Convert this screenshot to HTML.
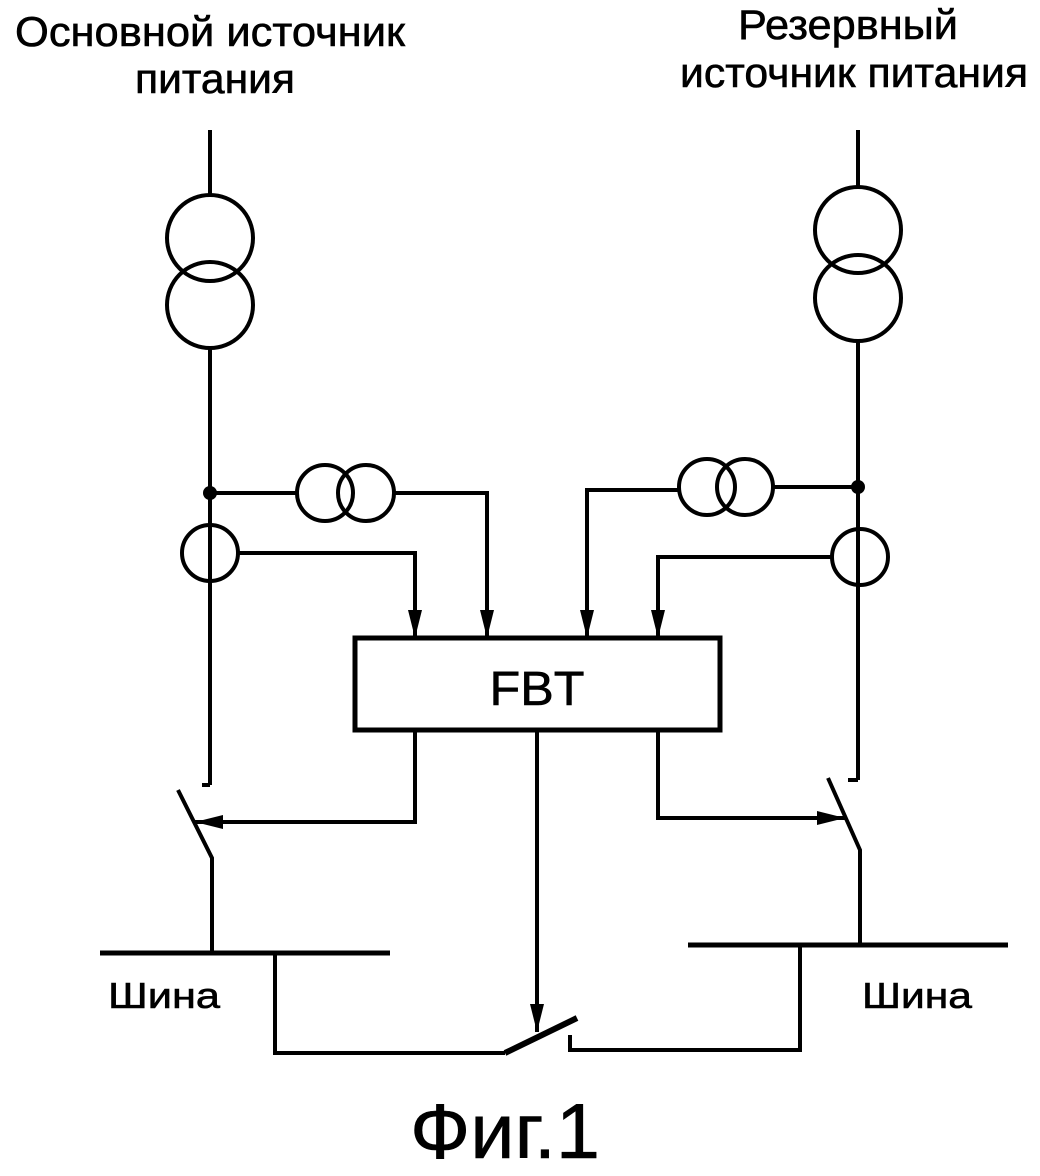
<!DOCTYPE html>
<html><head><meta charset="utf-8"><style>html,body{margin:0;padding:0;background:#fff}</style></head>
<body>
<svg width="1040" height="1171" viewBox="0 0 1040 1171" xmlns="http://www.w3.org/2000/svg" font-family="Liberation Sans, sans-serif">
<defs>
<marker id="a" viewBox="0 0 28 14" refX="28" refY="7" markerWidth="28" markerHeight="14" markerUnits="userSpaceOnUse" orient="auto">
<path d="M0,0 L28,7 L0,14 Z" fill="#000"/></marker>
</defs>
<g fill="#000" stroke="#000" stroke-width="0.6">
<text x="15" y="46" font-size="42" textLength="390" lengthAdjust="spacingAndGlyphs">Основной источник</text>
<text x="135" y="93" font-size="42" textLength="160" lengthAdjust="spacingAndGlyphs">питания</text>
<text x="738" y="39" font-size="42" textLength="220" lengthAdjust="spacingAndGlyphs">Резервный</text>
<text x="680" y="87" font-size="42" textLength="348" lengthAdjust="spacingAndGlyphs">источник питания</text>
<text x="537" y="705" font-size="48" text-anchor="middle" textLength="95" lengthAdjust="spacingAndGlyphs">FBT</text>
<text x="108" y="1008" font-size="36" textLength="112" lengthAdjust="spacingAndGlyphs">Шина</text>
<text x="862" y="1008" font-size="36" textLength="110" lengthAdjust="spacingAndGlyphs">Шина</text>
<text x="410" y="1158" font-size="78" textLength="190" lengthAdjust="spacingAndGlyphs">Фиг.1</text>
</g>
<g fill="none" stroke="#000" stroke-width="4">
<line x1="210" y1="130" x2="210" y2="195"/>
<circle cx="210" cy="238" r="43"/>
<circle cx="210" cy="305" r="43"/>
<line x1="210" y1="348" x2="210" y2="785"/>
<path d="M210,785 H202"/>
<path d="M178,790 L212,858 V953"/>
<circle cx="210" cy="553" r="28"/>
<circle cx="325" cy="493" r="28"/>
<circle cx="366" cy="493" r="28"/>
<path d="M210,493 H297"/>
<path d="M394,493 H487 V638" marker-end="url(#a)"/>
<path d="M238,553 H415 V638" marker-end="url(#a)"/>
<line x1="858" y1="130" x2="858" y2="188"/>
<circle cx="858" cy="230" r="43"/>
<circle cx="858" cy="298" r="43"/>
<line x1="858" y1="341" x2="858" y2="780"/>
<path d="M858,780 H848"/>
<path d="M828,778 L860,850 V945"/>
<circle cx="860" cy="557" r="28"/>
<circle cx="707" cy="487" r="28"/>
<circle cx="745" cy="487" r="28"/>
<path d="M858,487 H773"/>
<path d="M679,490 H587 V638" marker-end="url(#a)"/>
<path d="M832,557 H658 V638" marker-end="url(#a)"/>
<rect x="355" y="638" width="365" height="92" stroke-width="5"/>
<path d="M415,730 V822 H195" marker-end="url(#a)"/>
<path d="M658,730 V818 H845" marker-end="url(#a)"/>
<path d="M537,730 V1032" marker-end="url(#a)"/>
<line x1="100" y1="953" x2="390" y2="953" stroke-width="5"/>
<line x1="688" y1="945" x2="1008" y2="945" stroke-width="5"/>
<path d="M275,953 V1053 H505"/>
<line x1="505" y1="1053" x2="577" y2="1018" stroke-width="6"/>
<path d="M570,1035 V1050 H800 V945"/>
</g>
<g fill="#000">
<circle cx="210" cy="493" r="7"/>
<circle cx="858" cy="487" r="7"/>
</g>
</svg>
</body></html>
